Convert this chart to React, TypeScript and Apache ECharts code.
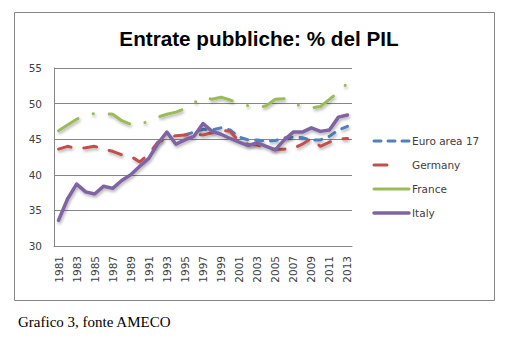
import React, { useEffect, useRef } from "react";
import * as echarts from "echarts";

const years: string[] = [];
for (let y = 1981; y <= 2013; y++) years.push(String(y));

const euroArea: (number | null)[] = [
  null, null, null, null, null, null, null, null, null, null, null, null, null, null,
  45.6, 46.0, 46.4, 46.3, 46.6, 46.3, 45.3, 44.9, 44.9, 44.7, 44.8, 45.2, 45.3, 45.2, 44.9, 44.9, 45.4, 46.3, 46.8,
];
const germany: number[] = [
  43.6, 44.0, 43.7, 43.8, 44.0, 43.6, 43.3, 42.8, 42.6, 41.8, 42.9, 44.6, 45.1, 45.5, 45.6, 45.7, 45.6,
  45.9, 46.3, 46.1, 44.7, 44.3, 44.2, 43.7, 43.6, 43.6, 43.7, 44.3, 45.1, 44.0, 44.6, 45.0, 45.1,
];
const france: number[] = [
  46.2, 47.0, 47.8, 48.4, 48.6, 48.6, 48.5, 47.6, 47.1, 47.0, 47.6, 48.1, 48.5, 48.8, 49.3, 50.1, 50.9,
  50.6, 50.9, 50.5, 50.0, 49.7, 49.4, 49.7, 50.6, 50.7, 49.9, 49.7, 49.4, 49.6, 50.6, 51.6, 52.9,
];
const italy: number[] = [
  33.6, 36.6, 38.7, 37.6, 37.3, 38.4, 38.1, 39.2, 40.0, 41.2, 42.3, 44.4, 46.0, 44.3, 44.9, 45.4, 47.2,
  46.1, 45.7, 45.1, 44.6, 44.1, 44.5, 44.0, 43.5, 44.9, 46.0, 46.0, 46.6, 46.1, 46.3, 48.1, 48.4,
];

const seriesNames = ["Euro area 17", "Germany", "France", "Italy"];
const seriesColors = ["#4F81BD", "#C0504D", "#9BBB59", "#8064A2"];
const seriesDash: (number[] | null)[] = [[7, 8], [13, 13], [23, 16, 0.1, 16], null];
const legendDash: (number[] | null)[] = [[7, 7], [13, 22], null, null];
const seriesWidth = [3, 3, 3, 3.5];
const seriesData = [euroArea, germany, france, italy];

const titleText = "Entrate pubbliche: % del PIL";
const captionText = "Grafico 3, fonte AMECO";

const shadow = {
  shadowColor: "rgba(0,0,0,0.3)",
  shadowBlur: 3,
  shadowOffsetX: 1,
  shadowOffsetY: 2,
};

export default function App() {
  const ref = useRef<HTMLDivElement>(null);
  useEffect(() => {
    if (!ref.current) return;
    const chart = echarts.init(ref.current, null, { renderer: "svg" });
    const font = "DejaVu Sans";

    const legendGraphics: any[] = [];
    seriesNames.forEach((name, i) => {
      const cy = 141 + i * 24;
      legendGraphics.push({
        type: "line",
        shape: { x1: 374, y1: cy, x2: 409, y2: cy },
        style: {
          stroke: seriesColors[i],
          lineWidth: seriesWidth[i],
          lineDash: legendDash[i],
          lineCap: "round",
        },
        silent: true,
      });
      legendGraphics.push({
        type: "text",
        x: 412,
        y: cy,
        style: {
          text: name,
          font: `10.5px '${font}'`,
          fill: "#404040",
          textVerticalAlign: "middle",
        },
      });
    });

    chart.setOption({
      animation: false,
      backgroundColor: "#ffffff",
      title: {
        text: titleText,
        left: 254,
        textAlign: "center",
        top: 23,
        textStyle: { fontFamily: "Liberation Sans", fontWeight: "bold", fontSize: 20.7, color: "#000" },
      },
      graphic: [
        {
          type: "rect",
          shape: { x: 14.5, y: 12.5, width: 480, height: 288 },
          style: { fill: "none", stroke: "#868686", lineWidth: 1 },
          silent: true,
        },
        {
          type: "text",
          x: 18,
          y: 322,
          style: {
            text: captionText,
            font: "15px 'Liberation Serif'",
            fill: "#000",
            textVerticalAlign: "middle",
          },
        },
        ...legendGraphics,
      ],
      grid: { left: 54, right: 158, top: 68, bottom: 96 },
      xAxis: {
        type: "category",
        data: years,
        boundaryGap: true,
        axisLine: { lineStyle: { color: "#868686" } },
        axisTick: { show: false },
        axisLabel: {
          interval: 1,
          rotate: 90,
          margin: 10,
          fontFamily: font,
          fontSize: 10.5,
          color: "#404040",
        },
      },
      yAxis: {
        type: "value",
        min: 30,
        max: 55,
        interval: 5,
        axisLine: { show: true, lineStyle: { color: "#868686" } },
        axisTick: { show: false },
        splitLine: { lineStyle: { color: "#868686", width: 1 } },
        axisLabel: { fontFamily: font, fontSize: 10.5, color: "#404040", margin: 12 },
      },
      series: seriesNames.map((name, i) => ({
        name,
        type: "line",
        data: seriesData[i],
        symbol: "none",
        connectNulls: false,
        lineStyle: {
          color: seriesColors[i],
          width: seriesWidth[i],
          type: seriesDash[i] || "solid",
          cap: "round",
          join: "round",
          ...shadow,
        },
        itemStyle: { color: seriesColors[i] },
      })),
    });
    return () => chart.dispose();
  }, []);
  return (
    <div style={{ position: "absolute", left: 0, top: 0, width: 510, height: 342, background: "#fff" }}>
      <div ref={ref} style={{ width: 510, height: 342 }} />
    </div>
  );
}
